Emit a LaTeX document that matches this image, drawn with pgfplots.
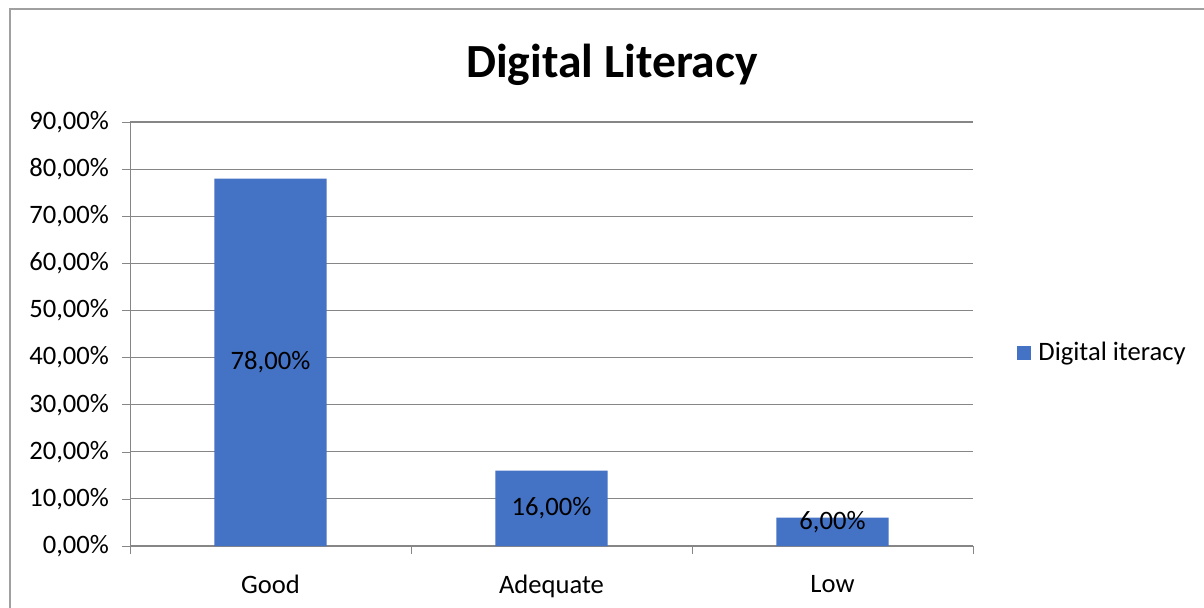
\documentclass[border=0pt]{standalone}
\usepackage{pgfplots}
\pgfplotsset{compat=1.18}
\usepackage{fontspec}
\setmainfont{Carlito}
\definecolor{barblue}{RGB}{68,114,196}
\definecolor{gridgray}{RGB}{134,134,134}
\definecolor{framegray}{RGB}{160,160,160}
\begin{document}
\begin{tikzpicture}
  \useasboundingbox (0pt,0pt) rectangle (602pt,303.5pt);
  % chart frame (cut off at right and bottom)
  \draw[framegray, line width=0.8pt] (5pt,-20pt) -- (5pt,299pt) -- (640pt,299pt);
  \node[font=\fontsize{23.8}{27}\selectfont\bfseries] at (306pt,271pt) {Digital Literacy};
  \begin{axis}[
    at={(65pt,30.5pt)}, anchor=south west,
    scale only axis, width=421.5pt, height=212pt,
    xmin=-0.5, xmax=2.5, ymin=0, ymax=90,
    axis lines=left, axis line style={gridgray, -},
    ytick={0,10,...,90},
    yticklabels={{0,00\%},{10,00\%},{20,00\%},{30,00\%},{40,00\%},{50,00\%},{60,00\%},{70,00\%},{80,00\%},{90,00\%}},
    xtick={0,1,2}, xticklabels={Good,Adequate,Low},
    minor xtick={-0.5,0.5,1.5,2.5},
    tick align=outside,
    major tick length=4pt, minor tick length=4pt,
    tick style={gridgray},
    x tick style={draw=none}, minor x tick style={gridgray, draw},
    ymajorgrids, grid style={gridgray, line width=0.6pt},
    tick label style={font=\fontsize{13.3}{15}\selectfont, black},
    /pgf/number format/assume math mode=true,
    yticklabel style={xshift=-3pt},
    xticklabel style={yshift=-7pt},
    legend style={at={(1,0.455)}, anchor=west, xshift=22pt, draw=none,
      font=\fontsize{13.3}{15}\selectfont, inner sep=0pt,
      nodes={inner xsep=3.5pt}},
    legend cell align=left,
    clip=false,
  ]
  \addplot[ybar, bar width=0.4, fill=barblue, draw=none,
    legend image code/.code={\fill[barblue] (0pt,-3.5pt) rectangle (7pt,3.5pt);}]
    coordinates {(0,78) (1,16) (2,6)};
  \addlegendentry{Digital iteracy}
  \addplot[draw=none, mark=none, forget plot,
    nodes near coords, point meta=explicit symbolic,
    nodes near coords align=center,
    every node near coord/.append style={font=\fontsize{13.3}{15}\selectfont, black}]
    coordinates {(0,39)[78,00\%] (1,8)[16,00\%] (2,5)[6,00\%]};
  \end{axis}
\end{tikzpicture}
\end{document}
